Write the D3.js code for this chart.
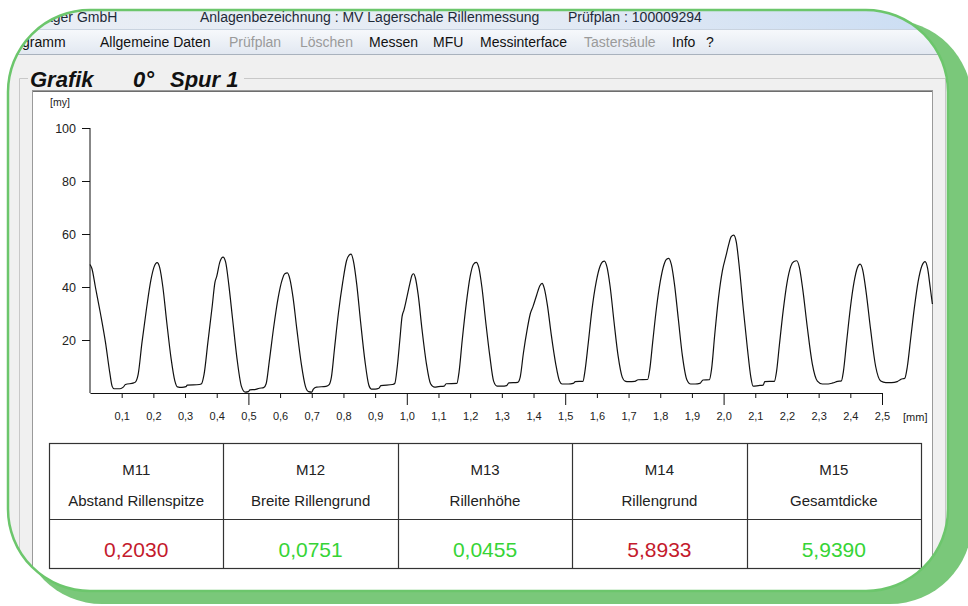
<!DOCTYPE html>
<html>
<head>
<meta charset="utf-8">
<script src="https://cdn.jsdelivr.net/npm/d3@7"></script>
<style>
  html, body { margin: 0; padding: 0; background: #fff; }
  svg { display: block; }
  text { font-family: "Liberation Sans", Arial, sans-serif; }
  .narrow { font-family: "Liberation Sans Narrow", "Liberation Sans", Arial, sans-serif; }
</style>
</head>
<body>
<svg id="chart" width="968" height="606"></svg>
<script>
// --- Daten ---
const yTicks = [20, 40, 60, 80, 100];
const xTicks = [0.1, 0.2, 0.3, 0.4, 0.5, 0.6, 0.7, 0.8, 0.9, 1.0, 1.1, 1.2, 1.3,
                1.4, 1.5, 1.6, 1.7, 1.8, 1.9, 2.0, 2.1, 2.2, 2.3, 2.4, 2.5];

// Rillenprofil [mm, my]
const profile = [
  [0.000, 48.5], [0.006, 47], [0.017, 40], [0.033, 30], [0.049, 19], [0.062, 8], [0.070, 2.5], [0.076, 1.6],
  [0.095, 1.6], [0.105, 2.2], [0.112, 3.2], [0.138, 3.8],
  [0.144, 4.2], [0.152, 7], [0.164, 19], [0.178, 31.5], [0.192, 42.5], [0.202, 47.5], [0.212, 49.2], [0.220, 47.3],
  [0.230, 40], [0.242, 27], [0.256, 13], [0.268, 4.5], [0.276, 2.3],
  [0.290, 2.1], [0.303, 2.4], [0.307, 3.0], [0.345, 3.2],
  [0.352, 3.5], [0.360, 7], [0.372, 19], [0.386, 33], [0.394, 41.5], [0.400, 44], [0.410, 49.5], [0.420, 51.3],
  [0.428, 49.5], [0.438, 41], [0.450, 28], [0.464, 13], [0.478, 2.5], [0.490, 0.3],
  [0.500, 0.5], [0.505, 1.2], [0.520, 1.3], [0.535, 1.8], [0.548, 2.0],
  [0.556, 3.5], [0.566, 12], [0.580, 25], [0.594, 36], [0.606, 42.5], [0.615, 45], [0.623, 45.3], [0.631, 43],
  [0.641, 36], [0.653, 24], [0.667, 11], [0.680, 2.5], [0.690, 0.5],
  [0.700, 0.3], [0.705, 1.5], [0.715, 2.2], [0.745, 2.5], [0.755, 3.2],
  [0.762, 6], [0.772, 17], [0.784, 30], [0.798, 42], [0.810, 50], [0.818, 52], [0.824, 52.4], [0.832, 49.5],
  [0.842, 41], [0.854, 27], [0.868, 12], [0.880, 3], [0.888, 1.5],
  [0.900, 1.5], [0.912, 1.8], [0.918, 2.8], [0.955, 3.2], [0.962, 3.6],
  [0.970, 10], [0.978, 20], [0.985, 28.8], [0.991, 31.3], [1.000, 36], [1.010, 41.5], [1.016, 44.3], [1.021, 45],
  [1.027, 43.5], [1.036, 37], [1.048, 24], [1.062, 11], [1.075, 3.5], [1.088, 2.2],
  [1.100, 2.4], [1.118, 2.6], [1.124, 3.5], [1.158, 3.6],
  [1.165, 8], [1.175, 20], [1.188, 34], [1.200, 44], [1.210, 48.5], [1.219, 49.3], [1.227, 47.5],
  [1.237, 40], [1.249, 27], [1.262, 14], [1.274, 4.5], [1.285, 2.6],
  [1.300, 2.6], [1.315, 2.8], [1.322, 3.8], [1.350, 4.0],
  [1.358, 6], [1.368, 15], [1.380, 24], [1.390, 30], [1.398, 32.5], [1.410, 37], [1.420, 40.5], [1.427, 41.4],
  [1.434, 39.5], [1.444, 33], [1.456, 22], [1.470, 11], [1.482, 4.5], [1.490, 3.4],
  [1.510, 3.4], [1.525, 3.6], [1.532, 4.3], [1.556, 4.4],
  [1.562, 8], [1.572, 18], [1.584, 31], [1.598, 42], [1.610, 47.8], [1.618, 49.5], [1.624, 49.8], [1.632, 47.5],
  [1.642, 40], [1.654, 27], [1.667, 14], [1.680, 6], [1.689, 4.5],
  [1.700, 4.3], [1.720, 4.4], [1.730, 5.0], [1.760, 5.1],
  [1.767, 9], [1.776, 19], [1.788, 32], [1.800, 42], [1.812, 48.5], [1.820, 50.5], [1.827, 50.8], [1.835, 48.5],
  [1.845, 41], [1.857, 28], [1.870, 14], [1.884, 5], [1.896, 3.4],
  [1.910, 3.4], [1.925, 3.6], [1.935, 4.9], [1.955, 5.0],
  [1.962, 9], [1.972, 22], [1.984, 36], [1.996, 46], [2.008, 52], [2.016, 56], [2.024, 59], [2.032, 59.6],
  [2.040, 57], [2.050, 47], [2.062, 32], [2.075, 17], [2.086, 6], [2.093, 2.6],
  [2.110, 2.8], [2.125, 3.0], [2.130, 4.3], [2.160, 4.4],
  [2.167, 8], [2.176, 18], [2.188, 31], [2.200, 41.5], [2.212, 47.8], [2.222, 49.6], [2.231, 49.9], [2.239, 47.5],
  [2.250, 39], [2.264, 25], [2.280, 11], [2.296, 4.5], [2.312, 3.4],
  [2.330, 3.4], [2.345, 3.8], [2.360, 4.4], [2.372, 4.6],
  [2.378, 8], [2.388, 19], [2.400, 32], [2.412, 42], [2.422, 47.2], [2.431, 48.6], [2.439, 46.5],
  [2.450, 38], [2.464, 24], [2.480, 10], [2.496, 4.5], [2.512, 3.9],
  [2.530, 3.9], [2.548, 4.3], [2.560, 5.2], [2.572, 5.6],
  [2.580, 10], [2.590, 20], [2.602, 32], [2.614, 42], [2.626, 48], [2.636, 49.6], [2.644, 47], [2.652, 40], [2.659, 33.6]
];

// Messwerte
const codes = ["M11", "M12", "M13", "M14", "M15"];
const names = ["Abstand Rillenspitze", "Breite Rillengrund", "Rillenhöhe", "Rillengrund", "Gesamtdicke"];
const values = ["0,2030", "0,0751", "0,0455", "5,8933", "5,9390"];
const status = ["nio", "io", "io", "nio", "io"];

const menuItems = ["gramm", "Allgemeine Daten", "Prüfplan", "Löschen", "Messen", "MFU", "Messinterface", "Tastersäule", "Info", "?"];
const menuEnabled = [true, true, false, false, true, true, true, false, true, true];

const svg = d3.select("#chart");
const defs = svg.append("defs");

// grüner Rahmen (Schatten)
svg.append("rect")
    .attr("x", 20).attr("y", 20).attr("width", 952).attr("height", 584)
    .attr("rx", 82).attr("ry", 82)
    .attr("fill", "#7ac87a");

defs.append("clipPath").attr("id", "frame")
  .append("rect")
    .attr("x", 8).attr("y", 10).attr("width", 940).attr("height", 581)
    .attr("rx", 82).attr("ry", 82);

const tb = defs.append("linearGradient").attr("id", "titlebar").attr("x1", 0).attr("x2", 1).attr("y1", 0).attr("y2", 0);
tb.append("stop").attr("offset", "0%").attr("stop-color", "#e9eef5");
tb.append("stop").attr("offset", "55%").attr("stop-color", "#e4ebf4");
tb.append("stop").attr("offset", "100%").attr("stop-color", "#c9dcf3");

const mb = defs.append("linearGradient").attr("id", "menubar").attr("x1", 0).attr("x2", 0).attr("y1", 0).attr("y2", 1);
mb.append("stop").attr("offset", "0%").attr("stop-color", "#f7f9fc");
mb.append("stop").attr("offset", "100%").attr("stop-color", "#e2e8f1");

const win = svg.append("g").attr("clip-path", "url(#frame)");

win.append("rect").attr("x", 0).attr("y", 0).attr("width", 968).attr("height", 606).attr("fill", "#f0f0f0");
win.append("rect").attr("x", 0).attr("y", 0).attr("width", 968).attr("height", 29).attr("fill", "url(#titlebar)");
win.append("rect").attr("x", 0).attr("y", 29).attr("width", 968).attr("height", 25).attr("fill", "url(#menubar)");
win.append("line").attr("x1", 0).attr("x2", 968).attr("y1", 29.5).attr("y2", 29.5).attr("stroke", "#c9d3df");
win.append("line").attr("x1", 0).attr("x2", 968).attr("y1", 54.5).attr("y2", 54.5).attr("stroke", "#a9b2bd");

// Titelzeile
const titleTexts = [
  { t: "ager GmbH", x: 45 },
  { t: "Anlagenbezeichnung : MV Lagerschale Rillenmessung", x: 200 },
  { t: "Prüfplan : 100009294", x: 568 }
];
win.selectAll("text.title").data(titleTexts).join("text")
    .attr("class", "title narrow")
    .attr("x", d => d.x).attr("y", 22)
    .attr("font-size", 14).attr("fill", "#1e2a38")
    .text(d => d.t);

// Menü
const menuX = [22, 100, 229, 300, 369, 433, 480, 584, 672, 706];
win.selectAll("text.menu").data(menuItems).join("text")
    .attr("class", "menu narrow")
    .attr("x", (d, i) => menuX[i]).attr("y", 47)
    .attr("font-size", 14)
    .attr("fill", (d, i) => menuEnabled[i] ? "#111" : "#9a9a9a")
    .text(d => d);

// Gruppenrahmen "Grafik"
win.append("path")
    .attr("d", "M19.5,600 V78.5 H28 M244,78.5 H945.5 V600")
    .attr("fill", "none").attr("stroke", "#c8c8c8");
const heading = [
  { t: "Grafik", x: 30 },
  { t: "0°", x: 133 },
  { t: "Spur 1", x: 170 }
];
win.selectAll("text.heading").data(heading).join("text")
    .attr("class", "heading")
    .attr("x", d => d.x).attr("y", 87)
    .attr("font-size", 22).attr("font-weight", "bold").attr("font-style", "italic")
    .attr("fill", "#111")
    .text(d => d.t);

// Zeichenfläche
win.append("rect")
    .attr("x", 32.5).attr("y", 90.5).attr("width", 900).attr("height", 520)
    .attr("fill", "#fff").attr("stroke", "#9a9a9a");
win.append("line").attr("x1", 33).attr("x2", 932).attr("y1", 91.5).attr("y2", 91.5).attr("stroke", "#6e6e6e");

const x = d3.scaleLinear().domain([0, 2.5]).range([90, 882]);
const y = d3.scaleLinear().domain([0, 100]).range([393, 128]);

const fmt = d => d.toFixed(1).replace(".", ",");

const xAxis = win.append("g")
    .attr("transform", "translate(0,393)")
    .call(d3.axisBottom(x).tickValues(xTicks).tickFormat(fmt).tickSize(5).tickSizeOuter(0).tickPadding(14));
xAxis.selectAll(".tick line")
    .attr("y2", d => Math.abs(d * 2 - Math.round(d * 2)) < 1e-6 ? 12 : 5);
xAxis.selectAll("text").attr("class", "narrow").attr("font-size", 11).attr("fill", "#222");
xAxis.selectAll("path, line").attr("stroke", "#111");

const yAxis = win.append("g")
    .attr("transform", "translate(90,0)")
    .call(d3.axisLeft(y).tickValues(yTicks).tickSize(8).tickSizeOuter(0).tickPadding(6));
yAxis.select(".domain").attr("d", `M0,${y(100)} V${y(0)}`);
yAxis.selectAll("text").attr("font-size", 12.5).attr("fill", "#222");
yAxis.selectAll("path, line").attr("stroke", "#111");

win.append("text").attr("x", 50).attr("y", 106).attr("font-size", 10.5).attr("fill", "#222").text("[my]");
win.append("text").attr("class", "narrow").attr("x", 903).attr("y", 421).attr("font-size", 11).attr("fill", "#222").text("[mm]");

win.append("path")
    .datum(profile)
    .attr("fill", "none")
    .attr("stroke", "#111")
    .attr("stroke-width", 1.2)
    .attr("d", d3.line().x(d => x(d[0])).y(d => y(d[1])).curve(d3.curveMonotoneX));

// Tabelle
const tbl = { x0: 49, x1: 921, y0: 443, y1: 519, y2: 568 };
const col = d3.scaleBand().domain(codes).range([tbl.x0, tbl.x1]);
const statusColor = { io: "#36d436", nio: "#c41a2c" };

const tg = win.append("g");
tg.append("rect")
    .attr("x", tbl.x0 + 0.5).attr("y", tbl.y0 + 0.5)
    .attr("width", tbl.x1 - tbl.x0).attr("height", tbl.y2 - tbl.y0)
    .attr("fill", "#fff").attr("stroke", "#333").attr("stroke-width", 1.2);
tg.append("line")
    .attr("x1", tbl.x0).attr("x2", tbl.x1).attr("y1", tbl.y1 + 0.5).attr("y2", tbl.y1 + 0.5)
    .attr("stroke", "#333").attr("stroke-width", 1.2);
tg.selectAll("line.sep").data(codes.slice(1)).join("line")
    .attr("class", "sep")
    .attr("x1", d => Math.round(col(d)) + 0.5).attr("x2", d => Math.round(col(d)) + 0.5)
    .attr("y1", tbl.y0).attr("y2", tbl.y2)
    .attr("stroke", "#333").attr("stroke-width", 1.2);

const cells = tg.selectAll("g.cell").data(codes).join("g")
    .attr("class", "cell")
    .attr("transform", d => `translate(${col(d) + col.bandwidth() / 2},0)`);
cells.append("text")
    .attr("y", 475).attr("text-anchor", "middle").attr("font-size", 15).attr("fill", "#222")
    .text(d => d);
cells.append("text")
    .attr("y", 506).attr("text-anchor", "middle").attr("font-size", 15).attr("fill", "#222")
    .text((d, i) => names[i]);
cells.append("text")
    .attr("y", 557).attr("text-anchor", "middle").attr("font-size", 21)
    .attr("fill", (d, i) => statusColor[status[i]])
    .text((d, i) => values[i]);

// grüne Randlinie
svg.append("rect")
    .attr("x", 8).attr("y", 10).attr("width", 940).attr("height", 581)
    .attr("rx", 82).attr("ry", 82)
    .attr("fill", "none").attr("stroke", "#6cc66c").attr("stroke-width", 2.5);
</script>
</body>
</html>
